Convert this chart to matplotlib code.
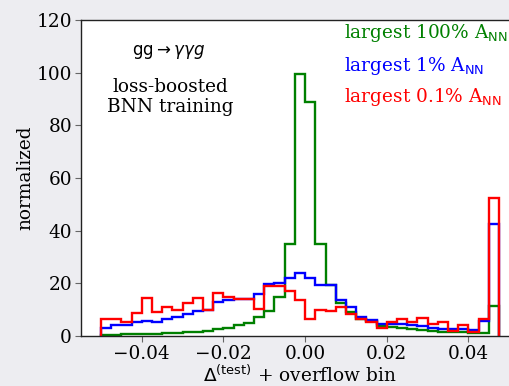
import numpy as np
import matplotlib
matplotlib.use("Agg")
import matplotlib.pyplot as plt

plt.rcParams['font.family'] = ['DejaVu Serif']
plt.rcParams['mathtext.fontset'] = 'dejavusans'

# Bin edges: 38 regular bins of width 0.0025 on [-0.05, 0.045] plus one overflow bin
bin_edges = np.round(np.arange(-0.05, 0.04751, 0.0025), 5)

# Normalized histogram contents per selection
green_all = [0.4, 0.5, 0.6, 0.7, 0.8, 0.9, 1.0, 1.2, 1.4, 1.7, 2.0, 2.6, 3.2, 4.1,
             5.1, 7.1, 9.5, 14.8, 35.0, 99.5, 88.8, 35.0, 19.4, 12.7, 9.2, 6.6,
             5.7, 3.8, 3.5, 3.1, 2.7, 2.3, 2.0, 1.7, 1.5, 1.4, 1.3, 1.3, 11.5]
blue_1pct = [3.0, 4.2, 4.0, 5.4, 5.8, 5.4, 6.5, 7.1, 8.4, 9.6, 9.9, 12.8, 13.7, 13.9,
             13.9, 15.9, 19.7, 20.1, 22.2, 24.0, 22.2, 19.4, 19.4, 13.7, 10.9, 7.4,
             6.2, 4.6, 4.7, 4.5, 4.0, 3.7, 2.9, 2.7, 2.5, 2.5, 2.1, 5.6, 42.4]
red_01pct = [6.4, 6.4, 5.3, 8.8, 14.3, 9.2, 11.2, 9.7, 12.4, 14.3, 9.9, 16.5, 14.9,
             13.9, 14.2, 10.1, 19.1, 19.1, 17.1, 13.8, 6.6, 9.9, 9.4, 11.1, 8.4,
             6.3, 5.3, 3.0, 5.3, 6.6, 5.2, 6.7, 4.7, 5.3, 1.8, 4.2, 1.4, 6.4, 52.3]

labels = [r'largest 100% A$_\mathrm{NN}$',
          r'largest 1% A$_\mathrm{NN}$',
          r'largest 0.1% A$_\mathrm{NN}$']
colors = ['green', 'blue', 'red']
x_ticks = [-0.04, -0.02, 0.00, 0.02, 0.04]
y_ticks = [0, 20, 40, 60, 80, 100, 120]

FS = 13.3
W, H = 510, 386
fig = plt.figure(figsize=(W / 100, H / 100), dpi=100, facecolor='#ededf1')
left, right, bottom, top = 81, 519, 336, 20
ax = fig.add_axes([left / W, (H - bottom) / H, (right - left) / W, (bottom - top) / H])
ax.set_facecolor('white')


def fig_xy(px, py):
    """Pixel position measured from the top-left corner -> figure fraction."""
    return px / W, 1 - py / H


for vals, col in zip([green_all, blue_1pct, red_01pct], colors):
    ax.stairs(vals, bin_edges, baseline=0, color=col, linewidth=1.7)

ax.margins(x=0.05)
ax.set_ylim(0, 120)
ax.set_xticks(x_ticks)
ax.set_xticklabels([f'{t:.2f}'.replace('-', '\u2212') for t in x_ticks])
ax.set_yticks(y_ticks)
ax.tick_params(labelsize=FS, color='#666666', length=4.5, pad=2)
for s in ax.spines.values():
    s.set_color('#222222')
    s.set_linewidth(1.0)

ax.set_xlabel(r'$\Delta^{\mathrm{(test)}}$ + overflow bin', fontsize=FS)
ax.set_ylabel('normalized', fontsize=FS)
ax.xaxis.set_label_coords(0.5, (bottom - 375) / (bottom - top))
ax.xaxis.label.set_va('center')
ax.yaxis.set_label_coords((25 - left) / (right - left), 0.5)
ax.yaxis.label.set_va('center')

fig.text(*fig_xy(169, 52), r'$\mathrm{gg}\rightarrow\gamma\gamma g$',
         ha='center', va='center', fontsize=12)
fig.text(*fig_xy(170, 97), 'loss-boosted\nBNN training',
         ha='center', va='center', fontsize=FS, linespacing=1.15)

for lab, col, py in zip(labels, colors, [33, 66, 97]):
    fig.text(*fig_xy(344, py), lab, color=col, fontsize=FS, ha='left', va='center')

fig.savefig('out.png', dpi=100, facecolor=fig.get_facecolor())
